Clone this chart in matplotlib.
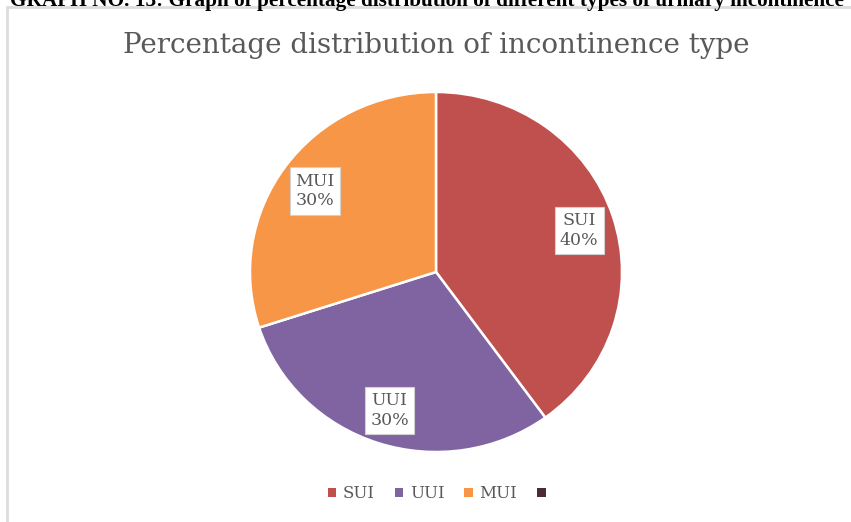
import matplotlib.pyplot as plt
from matplotlib.patches import Rectangle, Patch

# incontinence types and share (%)
tipos = ["SUI", "UUI", "MUI", ""]
procent = [40, 30, 30, 0]
kolory = ["#C0504D", "#8064A2", "#F79646", "#4D2A3A"]

naglowek = "GRAPH NO. 13: Graph of percentage distribution of different types of urinary incontinence"
tytul = "Percentage distribution of incontinence type"

fig = plt.figure(figsize=(8.51, 5.22), dpi=100)
W, H = 851, 522

# chart frame with soft shadow (kept behind the axes)
fig.patches.append(Rectangle((7 / W, -0.01), 1.0, 1 - 7 / H + 0.01, transform=fig.transFigure,
                             facecolor="white", edgecolor="#DDDDDD", lw=2.0, zorder=-5))
fig.text(10 / W, 1 - 6 / H, naglowek, fontsize=15.3, fontweight="bold",
         family="Liberation Serif", color="black", va="baseline", ha="left")
fig.text(436 / W, 1 - 45 / H, tytul, fontsize=20, family="DejaVu Serif",
         color="#595959", ha="center", va="center")

# pie, drawn only from non-zero slices
cx, cy, rx, ry = 436, 522 - 272, 186, 180
ax = fig.add_axes([(cx - rx) / W, (cy - ry) / H, 2 * rx / W, 2 * ry / H])
dane = [(t, p, k) for t, p, k in zip(tipos, procent, kolory) if p > 0]
wedges, _ = ax.pie([d[1] for d in dane], colors=[d[2] for d in dane], startangle=90,
                   counterclock=False, radius=1.0,
                   wedgeprops=dict(edgecolor="white", linewidth=1.8))
ax.set_xlim(-1, 1)
ax.set_ylim(-1, 1)
ax.set_aspect("auto")
ax.axis("off")

# callout label positions (axis units)
poz = {"SUI": (0.77, 0.23), "MUI": (-0.65, 0.45), "UUI": (-0.25, -0.77)}
for t, p, k in dane:
    x, y = poz[t]
    ax.text(x, y, f"{t}\n{p}%", ha="center", va="center", fontsize=12.5,
            family="DejaVu Serif", color="#595959", linespacing=1.2,
            bbox=dict(boxstyle="square,pad=0.3", facecolor="white", edgecolor="#D0D0D0", lw=0.8))

uchwyty = [Patch(facecolor=k, edgecolor="none") for k in kolory]
fig.legend(uchwyty, tipos, loc="center", bbox_to_anchor=(440 / W, 1 - 494 / H), ncol=4,
           frameon=False, handlelength=0.5, handleheight=0.5, handletextpad=0.4,
           columnspacing=1.2, prop=dict(family="DejaVu Serif", size=12), labelcolor="#595959")

fig.savefig("out.png", dpi=100)
